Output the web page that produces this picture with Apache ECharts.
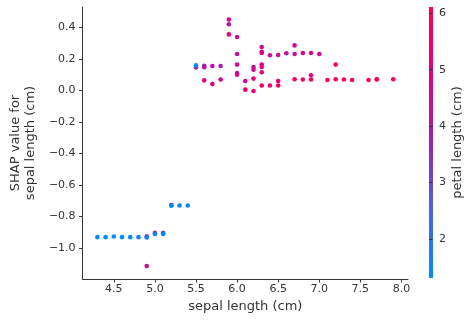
<!DOCTYPE html>
<html>
<head>
<meta charset="utf-8">
<script src="https://cdn.jsdelivr.net/npm/echarts@6/dist/echarts.min.js"></script>
<style>html,body{margin:0;padding:0;background:#fff}#c{width:471px;height:320px}</style>
</head>
<body>
<div id="c"></div>
<script>
// sepal length (x), SHAP value (y), petal length (colour)
const sepalLength = [
  4.3,4.4,4.5,4.6,4.7,4.8,4.9,4.9,4.9,5.0,5.0,5.1,5.1,5.2,5.2,5.3,5.4,
  5.5,5.5,5.6,5.6,5.6,5.7,5.7,5.8,5.8,5.9,5.9,5.9,6.0,6.0,6.0,6.0,6.0,
  6.1,6.1,6.2,6.2,6.2,6.2,6.3,6.3,6.3,6.3,6.3,6.3,6.3,6.4,6.4,6.5,6.5,6.5,
  6.6,6.7,6.7,6.7,6.8,6.8,6.9,6.9,6.9,7.0,7.1,7.2,7.2,7.3,7.4,7.6,7.7,7.7,7.9
];
const shapValue = [
  -0.931,-0.931,-0.927,-0.931,-0.931,-0.931,-0.925,-0.933,-1.115,-0.904,-0.911,-0.904,-0.911,-0.727,-0.731,-0.730,-0.730,
  0.147,0.160,0.148,0.158,0.065,0.156,0.042,0.156,0.070,0.452,0.421,0.357,0.340,0.232,0.165,0.112,0.101,
  0.061,0.006,0.150,0.133,0.076,-0.003,0.277,0.247,0.239,0.165,0.150,0.116,0.032,0.224,0.032,0.226,0.061,0.032,
  0.237,0.287,0.232,0.072,0.239,0.070,0.239,0.097,0.070,0.232,0.067,0.165,0.072,0.070,0.067,0.067,0.070,0.072,0.072
];
const petalLength = [
  1.1,1.4,1.3,1.4,1.3,1.6,3.3,1.5,4.5,3.5,1.5,3.0,1.5,3.9,1.5,1.5,1.5,
  4.0,1.3,3.9,4.1,4.9,4.2,5.0,4.0,5.1,4.8,4.2,5.1,4.5,4.5,5.0,4.0,5.1,
  4.7,5.6,4.3,4.5,5.4,5.4,4.7,4.4,4.9,4.9,5.0,5.1,5.6,4.3,5.5,4.6,5.2,5.8,
  4.4,4.7,4.4,5.7,4.8,5.9,4.9,5.1,5.7,4.7,5.9,6.1,6.0,6.3,6.1,6.6,6.7,6.9,6.4
];
const xTicks = [4.5,5.0,5.5,6.0,6.5,7.0,7.5,8.0];
const yTicks = [-1.0,-0.8,-0.6,-0.4,-0.2,0.0,0.2,0.4];
const cbTicks = [2,3,4,5,6];
const cmap = ['#008bfb','#4b63e3','#9b24ad','#e00086','#ff0051'];

const data = sepalLength.map((x,i)=>[x, shapValue[i], petalLength[i]]);
const FONT = 'DejaVu Sans';
const AX = '#333333';
const fmt = v => v.toFixed(1).replace('-', '\u2212');

const chart = echarts.init(document.getElementById('c'), null, {renderer:'canvas'});
chart.setOption({
  animation:false,
  backgroundColor:'#ffffff',
  grid:[
    {left:73, top:7, width:335, height:272},
    {left:429, top:7, width:4, height:271, show:true, borderWidth:0,
     backgroundColor:new echarts.graphic.LinearGradient(0,0,0,1,
       cmap.slice().reverse().map((c,i)=>({offset:i/(cmap.length-1), color:c})))}
  ],
  xAxis:[
    {gridIndex:0, type:'value', min:4.12, max:8.08,
     name:'sepal length (cm)', nameLocation:'middle', nameGap:19,
     nameTextStyle:{fontFamily:FONT, fontSize:13, color:AX},
     axisLine:{show:true, onZero:false, lineStyle:{color:AX, width:1}},
     axisTick:{show:true, length:3.5, customValues:xTicks, lineStyle:{color:AX}},
     axisLabel:{customValues:xTicks, margin:5, fontFamily:FONT, fontSize:11, color:AX, formatter:v=>v.toFixed(1)},
     splitLine:{show:false}},
    {gridIndex:1, type:'value', show:false, min:0, max:1}
  ],
  yAxis:[
    {gridIndex:0, type:'value', min:-1.197, max:0.531,
     name:'SHAP value for\nsepal length (cm)', nameLocation:'middle', nameGap:38, nameRotate:90,
     nameTextStyle:{fontFamily:FONT, fontSize:13, color:AX, lineHeight:15},
     axisLine:{show:true, onZero:false, lineStyle:{color:AX, width:1}},
     axisTick:{show:true, length:3.5, customValues:yTicks, lineStyle:{color:AX}},
     axisLabel:{customValues:yTicks, margin:7, fontFamily:FONT, fontSize:11, color:AX, formatter:fmt},
     splitLine:{show:false}},
    {gridIndex:1, type:'value', position:'right', min:1.31, max:6.11,
     name:'petal length (cm)', nameLocation:'middle', nameGap:18, nameRotate:90,
     nameTextStyle:{fontFamily:FONT, fontSize:13, color:AX},
     axisLine:{show:false},
     axisTick:{show:true, length:3.5, customValues:cbTicks, lineStyle:{color:AX}},
     axisLabel:{customValues:cbTicks, margin:6, fontFamily:FONT, fontSize:11, color:AX},
     splitLine:{show:false}}
  ],
  visualMap:{show:false, type:'continuous', dimension:2, seriesIndex:0, min:1.31, max:6.11,
    inRange:{color:cmap}},
  series:[
    {type:'scatter', xAxisIndex:0, yAxisIndex:0, data:data, symbolSize:4.6,
     itemStyle:{opacity:1}}
  ]
});
</script>
</body>
</html>
